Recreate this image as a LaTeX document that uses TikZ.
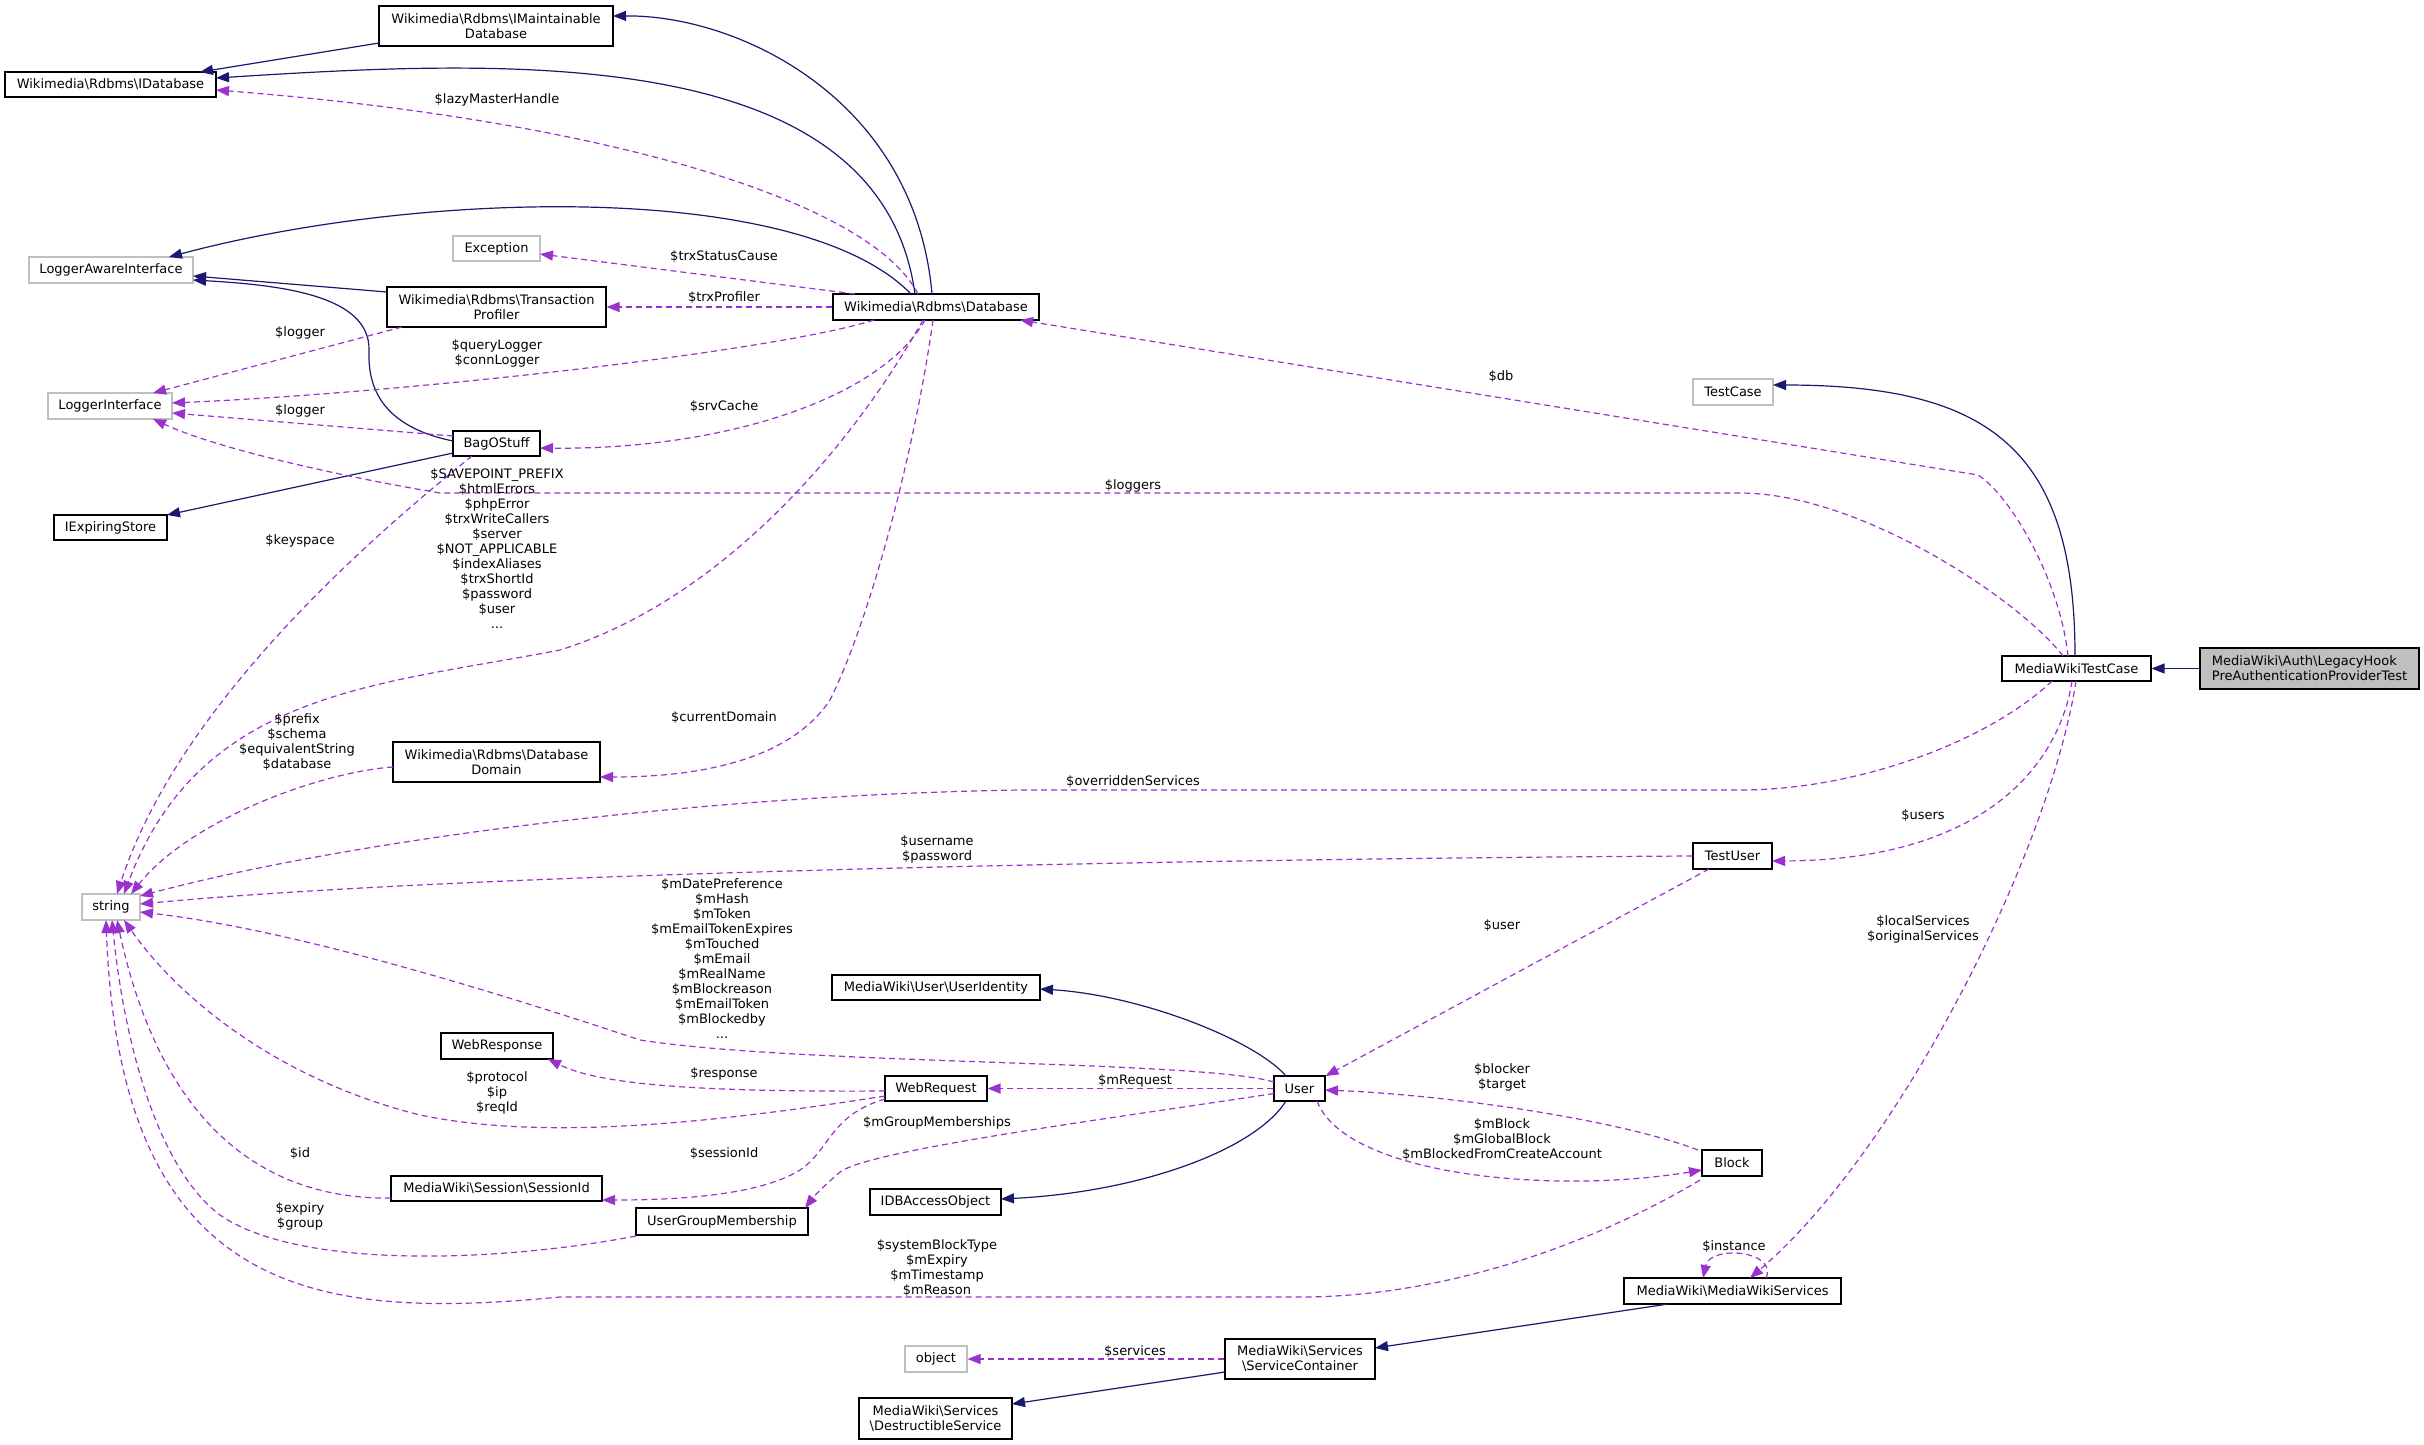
\documentclass[tikz,border=0pt]{standalone}
\usepackage{fontspec}
\setmainfont{DejaVu Sans}
\usetikzlibrary{arrows.meta}
\definecolor{midblue}{RGB}{25,25,112}
\definecolor{orch}{RGB}{154,50,205}
\definecolor{grayS}{RGB}{191,191,191}
\newcommand{\dgfont}{\fontsize{13}{15}\selectfont}
\newcommand{\bsl}{\textbackslash}
\begin{document}
\begin{tikzpicture}[x=1pt,y=-1pt,
 box/.style={draw=black, fill=white, line width=1.1pt, inner sep=0pt, align=center, font=\dgfont},
 gbox/.style={box, draw=grayS},
 lbl/.style={inner sep=0pt, align=center, font=\dgfont},
 inh/.style={draw=midblue, line width=1.2pt, -{Triangle[length=13pt,width=10pt]}},
 mem/.style={draw=orch, line width=1.2pt, dash pattern=on 6pt off 4pt, -{Triangle[length=13pt,width=10pt]}},
]
\useasboundingbox[fill=white] (0,0) rectangle (2424,1444);

% ---------- nodes ----------
\node[box, minimum width=234pt, minimum height=40pt] (imaint) at (496,26) {Wikimedia\bsl Rdbms\bsl IMaintainable\\Database};
\node[box, minimum width=211pt, minimum height=25pt] (idb) at (110.5,84.5) {Wikimedia\bsl Rdbms\bsl IDatabase};
\node[gbox, minimum width=164pt, minimum height=26pt] (lai) at (111,270) {LoggerAwareInterface};
\node[gbox, minimum width=87pt, minimum height=25pt] (exc) at (496.5,248.5) {Exception};
\node[box, minimum width=219pt, minimum height=40pt] (tp) at (496.5,307) {Wikimedia\bsl Rdbms\bsl Transaction\\Profiler};
\node[box, minimum width=206pt, minimum height=26pt] (db) at (936,307) {Wikimedia\bsl Rdbms\bsl Database};
\node[gbox, minimum width=124pt, minimum height=26pt] (li) at (110,406) {LoggerInterface};
\node[box, minimum width=87pt, minimum height=25pt] (bag) at (496.5,443.5) {BagOStuff};
\node[box, minimum width=113pt, minimum height=25pt] (ies) at (110.5,527.5) {IExpiringStore};
\node[box, minimum width=207pt, minimum height=40pt] (dd) at (496.5,762) {Wikimedia\bsl Rdbms\bsl Database\\Domain};
\node[gbox, minimum width=58pt, minimum height=26pt] (str) at (111,907) {string};
\node[box, minimum width=112pt, minimum height=26pt] (wresp) at (497,1046) {WebResponse};
\node[box, minimum width=102pt, minimum height=25pt] (wreq) at (936,1088.5) {WebRequest};
\node[box, minimum width=211pt, minimum height=25pt] (sid) at (496.5,1188.5) {MediaWiki\bsl Session\bsl SessionId};
\node[box, minimum width=172pt, minimum height=27pt] (ugm) at (722,1221.5) {UserGroupMembership};
\node[box, minimum width=208pt, minimum height=25pt] (uid) at (936,987.5) {MediaWiki\bsl User\bsl UserIdentity};
\node[box, minimum width=131pt, minimum height=26pt] (idbao) at (935.5,1202) {IDBAccessObject};
\node[box, minimum width=51pt, minimum height=25pt] (user) at (1299.5,1088.5) {User};
\node[box, minimum width=60pt, minimum height=26pt] (block) at (1732,1163) {Block};
\node[gbox, minimum width=62pt, minimum height=26pt] (obj) at (936,1359) {object};
\node[box, minimum width=150pt, minimum height=40pt] (sc) at (1300,1359) {MediaWiki\bsl Services\\\bsl ServiceContainer};
\node[box, minimum width=153pt, minimum height=41pt] (ds) at (935.5,1418.5) {MediaWiki\bsl Services\\\bsl DestructibleService};
\node[box, minimum width=217pt, minimum height=26pt] (mws) at (1732.5,1291) {MediaWiki\bsl MediaWikiServices};
\node[box, minimum width=79pt, minimum height=26pt] (tu) at (1732.5,856) {TestUser};
\node[gbox, minimum width=80pt, minimum height=26pt] (tc) at (1733,392) {TestCase};
\node[box, minimum width=149pt, minimum height=25pt] (mwtc) at (2076.5,668.5) {MediaWikiTestCase};
\node[box, fill=grayS, align=left, minimum width=219pt, minimum height=41pt] (lh) at (2309.5,668.5) {MediaWiki\bsl Auth\bsl LegacyHook\\PreAuthenticationProviderTest};

% ---------- inheritance edges ----------
\draw[inh] ([shift={(-117,17)}]imaint.center) -- ([shift={(89.5,-12.5)}]idb.center);
\draw[inh] ([shift={(-4,-13)}]db.center) .. controls (915,100) and (740,15) .. ([shift={(117,-10)}]imaint.center);
\draw[inh] ([shift={(-21,-13)}]db.center) .. controls (880,40) and (500,60) .. ([shift={(105.5,-6.5)}]idb.center);
\draw[inh] ([shift={(-25,-13)}]db.center) .. controls (800,180) and (420,190) .. ([shift={(58,-13)}]lai.center);
\draw[inh] ([shift={(-109.5,-15)}]tp.center) -- ([shift={(82,6)}]lai.center);
\draw[inh] ([shift={(-43.5,-2.5)}]bag.center) .. controls (375,425) and (368,380) .. (369,350) .. controls (370,295) and (280,285) .. ([shift={(82,10)}]lai.center);
\draw[inh] ([shift={(-43.5,9.5)}]bag.center) -- ([shift={(56.5,-12.5)}]ies.center);
\draw[inh] ([shift={(-1.5,-12.5)}]mwtc.center) .. controls (2075,450) and (1990,385) .. ([shift={(40,-7)}]tc.center);
\draw[inh] (lh.west) -- (mwtc.east);
\draw[inh] ([shift={(-13.5,-12.5)}]user.center) .. controls (1255,1040) and (1140,995) .. ([shift={(104,1.5)}]uid.center);
\draw[inh] ([shift={(-13.5,12.5)}]user.center) .. controls (1255,1150) and (1140,1192) .. ([shift={(65.5,-3)}]idbao.center);
\draw[inh] ([shift={(-64.5,13)}]mws.center) -- ([shift={(75,-11)}]sc.center);
\draw[inh] ([shift={(-75,13)}]sc.center) -- ([shift={(76.5,-14.5)}]ds.center);

% ---------- member edges ----------
\draw[mem] ([shift={(-18,-13)}]db.center) .. controls (870,200) and (600,120) .. ([shift={(105.5,5.5)}]idb.center);
\draw[mem] ([shift={(-81,-13)}]db.center) -- ([shift={(43.5,5.5)}]exc.center);
\draw[mem] (db.west) -- (tp.east);
\draw[mem] ([shift={(-62,13)}]db.center) .. controls (780,350) and (420,392) .. ([shift={(62,-3)}]li.center);
\draw[mem] ([shift={(-94.5,20)}]tp.center) -- ([shift={(43,-13)}]li.center);
\draw[mem] ([shift={(-43.5,-7.5)}]bag.center) -- ([shift={(62,7)}]li.center);
\draw[mem] ([shift={(-11,13)}]db.center) .. controls (880,400) and (720,450) .. ([shift={(43.5,4.5)}]bag.center);
\draw[mem] ([shift={(-13.5,-12.5)}]mwtc.center) .. controls (2020,600) and (1860,493) .. (1740,493) -- (440,493) .. controls (350,478) and (220,450) .. ([shift={(43,13)}]li.center);
\draw[mem] ([shift={(-8.5,-12.5)}]mwtc.center) .. controls (2060,580) and (2010,495) .. (1978,475) -- ([shift={(84,13)}]db.center);
\draw[mem] ([shift={(-13,13)}]db.center) .. controls (850,450) and (720,600) .. (560,650) .. controls (380,685) and (200,690) .. ([shift={(13,-13)}]str.center);
\draw[mem] ([shift={(-3,13)}]db.center) .. controls (915,450) and (870,620) .. (830,700) .. controls (790,760) and (700,777) .. ([shift={(103.5,15)}]dd.center);
\draw[mem] ([shift={(-24.5,12.5)}]bag.center) .. controls (380,530) and (180,700) .. ([shift={(6,-13)}]str.center);
\draw[mem] ([shift={(-103.5,5)}]dd.center) .. controls (320,772) and (190,820) .. ([shift={(20,-13)}]str.center);
\draw[mem] ([shift={(-24.5,12.5)}]mwtc.center) .. controls (1990,740) and (1860,790) .. (1740,790) -- (1020,790) .. controls (700,795) and (350,840) .. ([shift={(29,-11)}]str.center);
\draw[mem] (tu.west) .. controls (1300,858) and (500,870) .. ([shift={(29,-3)}]str.center);
\draw[mem] ([shift={(-25.5,-6.5)}]user.center) .. controls (1200,1060) and (800,1065) .. (640,1040) .. controls (520,1000) and (300,930) .. ([shift={(29,5)}]str.center);
\draw[mem] ([shift={(-51,7.5)}]wreq.center) .. controls (700,1125) and (540,1140) .. (420,1115) .. controls (280,1080) and (180,1000) .. ([shift={(13,13)}]str.center);
\draw[mem] ([shift={(-51,2.5)}]wreq.center) .. controls (700,1092) and (600,1085) .. ([shift={(51,13)}]wresp.center);
\draw[mem] ([shift={(-51,10.5)}]wreq.center) .. controls (830,1115) and (830,1150) .. (800,1170) .. controls (760,1195) and (680,1200) .. ([shift={(105.5,11.5)}]sid.center);
\draw[mem] ([shift={(-105.5,9.5)}]sid.center) .. controls (260,1200) and (160,1120) .. ([shift={(6,13)}]str.center);
\draw[mem] ([shift={(-86,14.5)}]ugm.center) .. controls (500,1262) and (300,1270) .. (220,1215) .. controls (160,1170) and (125,1050) .. ([shift={(1,13)}]str.center);
\draw[mem] ([shift={(-32,17)}]block.center) .. controls (1600,1240) and (1450,1297) .. (1300,1297) -- (560,1297) .. controls (320,1320) and (120,1300) .. ([shift={(-5,13)}]str.center);
\draw[mem] (user.west) -- (wreq.east);
\draw[mem] ([shift={(-25.5,5)}]user.center) .. controls (1100,1120) and (870,1150) .. (840,1172) .. controls (825,1185) and (815,1195) .. ([shift={(83,-13.5)}]ugm.center);
\draw[mem] ([shift={(-34,-13)}]block.center) .. controls (1620,1120) and (1450,1095) .. ([shift={(25.5,1.5)}]user.center);
\draw[mem] ([shift={(17.5,12.5)}]user.center) .. controls (1345,1175) and (1550,1195) .. ([shift={(-30,7)}]block.center);
\draw[mem] ([shift={(-23.5,13)}]tu.center) -- ([shift={(26,-12.5)}]user.center);
\draw[mem] ([shift={(-4.5,12.5)}]mwtc.center) .. controls (2060,760) and (1990,860) .. ([shift={(39.5,5)}]tu.center);
\draw[mem] ([shift={(-0.5,12.5)}]mwtc.center) .. controls (2050,850) and (1900,1150) .. ([shift={(17.5,-13)}]mws.center);
\draw[mem] ([shift={(33.5,-13)}]mws.center) .. controls (1778,1250) and (1710,1245) .. ([shift={(-29.5,-13)}]mws.center);
\draw[mem] (sc.west) -- (obj.east);

% ---------- labels ----------
\node[lbl] (l1) at (497,100) {\$lazyMasterHandle};
\node[lbl] (l2) at (724,257) {\$trxStatusCause};
\node[lbl] (l3) at (724,298) {\$trxProfiler};
\node[lbl] (l4) at (497,353.5) {\$queryLogger\\\$connLogger};
\node[lbl] (l5) at (300,333) {\$logger};
\node[lbl] (l6) at (300,411) {\$logger};
\node[lbl] (l7) at (724,407) {\$srvCache};
\node[lbl] (l8) at (1133,486) {\$loggers};
\node[lbl] (l9) at (1501,377) {\$db};
\node[lbl] (l10) at (497,549) {\$SAVEPOINT\_PREFIX\\\$htmlErrors\\\$phpError\\\$trxWriteCallers\\\$server\\\$NOT\_APPLICABLE\\\$indexAliases\\\$trxShortId\\\$password\\\$user\\...};
\node[lbl] (l11) at (724,718) {\$currentDomain};
\node[lbl] (l12) at (300,541) {\$keyspace};
\node[lbl] (l13) at (297,742.5) {\$prefix\\\$schema\\\$equivalentString\\\$database};
\node[lbl] (l14) at (1133,782) {\$overriddenServices};
\node[lbl] (l15) at (937,849.5) {\$username\\\$password};
\node[lbl] (l16) at (722,959) {\$mDatePreference\\\$mHash\\\$mToken\\\$mEmailTokenExpires\\\$mTouched\\\$mEmail\\\$mRealName\\\$mBlockreason\\\$mEmailToken\\\$mBlockedby\\...};
\node[lbl] (l17) at (497,1092.5) {\$protocol\\\$ip\\\$reqId};
\node[lbl] (l18) at (724,1074) {\$response};
\node[lbl] (l19) at (300,1153) {\$id};
\node[lbl] (l20) at (724,1153) {\$sessionId};
\node[lbl] (l21) at (300,1216.5) {\$expiry\\\$group};
\node[lbl] (l22) at (937,1123) {\$mGroupMemberships};
\node[lbl] (l23) at (1135,1081) {\$mRequest};
\node[lbl] (l24) at (1502,1077.5) {\$blocker\\\$target};
\node[lbl] (l25) at (1502,1139) {\$mBlock\\\$mGlobalBlock\\\$mBlockedFromCreateAccount};
\node[lbl] (l26) at (1502,925) {\$user};
\node[lbl] (l27) at (1923,815) {\$users};
\node[lbl] (l28) at (1923,929) {\$localServices\\\$originalServices};
\node[lbl] (l29) at (1734,1246) {\$instance};
\node[lbl] (l30) at (937,1268) {\$systemBlockType\\\$mExpiry\\\$mTimestamp\\\$mReason};
\node[lbl] (l31) at (1135,1351) {\$services};
\end{tikzpicture}
\end{document}
